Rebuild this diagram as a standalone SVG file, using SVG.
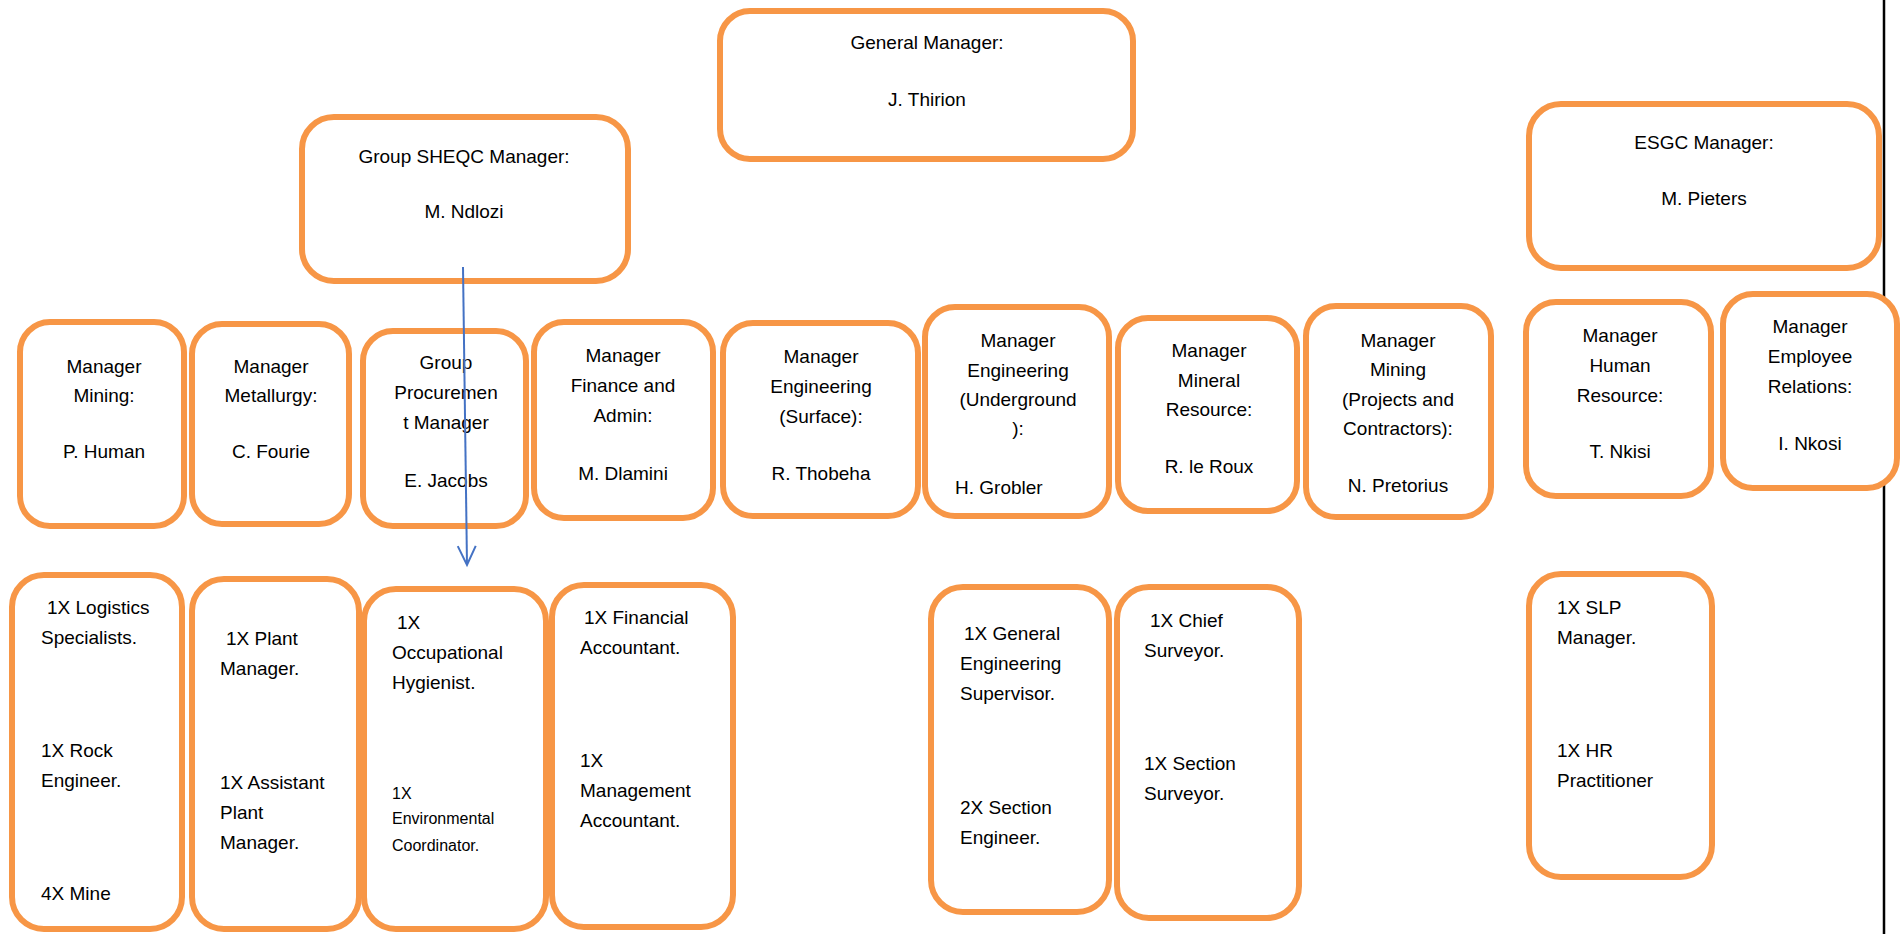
<svg xmlns="http://www.w3.org/2000/svg" width="1902" height="934" viewBox="0 0 1902 934">
<style>
.box{fill:#fff;stroke:#F79646;stroke-width:6}
text{font-family:"Liberation Sans",Arial,sans-serif;font-size:19px;fill:#000}
.c{text-anchor:middle}
.s{font-size:16px}
.conn{stroke:#4472C4;stroke-width:2;fill:none}
</style>
<defs>
<marker id="arr" markerUnits="userSpaceOnUse" markerWidth="24" markerHeight="24" refX="20" refY="10" orient="auto">
<polyline points="1,1 20,10 1,19" fill="none" stroke="#4472C4" stroke-width="2"/>
</marker>
</defs>
<rect x="0" y="0" width="1902" height="934" fill="#fff"/>
<line x1="1884" y1="0" x2="1884" y2="934" stroke="#000" stroke-width="2.5"/>

<g id="gm"><rect class="box" x="720" y="11" width="413" height="148" rx="30"/>
<text class="c" x="927" y="49">General Manager:</text><text class="c" x="927" y="106">J. Thirion</text></g>
<g id="sheqc"><rect class="box" x="302" y="117" width="326" height="164" rx="32"/>
<text class="c" x="464" y="163">Group SHEQC Manager:</text><text class="c" x="464" y="218">M. Ndlozi</text></g>
<g id="esgc"><rect class="box" x="1529" y="104" width="350" height="164" rx="32"/>
<text class="c" x="1704" y="149">ESGC Manager:</text><text class="c" x="1704" y="205">M. Pieters</text></g>

<g id="mining"><rect class="box" x="20" y="322" width="164" height="204" rx="30"/>
<text class="c" x="104" y="373">Manager</text><text class="c" x="104" y="402">Mining:</text><text class="c" x="104" y="458">P. Human</text></g>
<g id="metallurgy"><rect class="box" x="192" y="324" width="157" height="200" rx="30"/>
<text class="c" x="271" y="373">Manager</text><text class="c" x="271" y="402">Metallurgy:</text><text class="c" x="271" y="458">C. Fourie</text></g>
<g id="procurement"><rect class="box" x="363" y="331" width="163" height="195" rx="30"/>
<text class="c" x="446" y="369">Group</text><text class="c" x="446" y="399">Procuremen</text><text class="c" x="446" y="429">t Manager</text><text class="c" x="446" y="487">E. Jacobs</text></g>
<g id="finance"><rect class="box" x="534" y="322" width="179" height="196" rx="30"/>
<text class="c" x="623" y="362">Manager</text><text class="c" x="623" y="392">Finance and</text><text class="c" x="623" y="422">Admin:</text><text class="c" x="623" y="480">M. Dlamini</text></g>
<g id="eng-surface"><rect class="box" x="723" y="323" width="195" height="193" rx="30"/>
<text class="c" x="821" y="363">Manager</text><text class="c" x="821" y="393">Engineering</text><text class="c" x="821" y="423">(Surface):</text><text class="c" x="821" y="480">R. Thobeha</text></g>
<g id="eng-underground"><rect class="box" x="925" y="307" width="184" height="209" rx="30"/>
<text class="c" x="1018" y="347">Manager</text><text class="c" x="1018" y="377">Engineering</text><text class="c" x="1018" y="406">(Underground</text><text class="c" x="1018" y="435">):</text><text x="955" y="494">H. Grobler</text></g>
<g id="mineral"><rect class="box" x="1118" y="318" width="179" height="193" rx="30"/>
<text class="c" x="1209" y="357">Manager</text><text class="c" x="1209" y="387">Mineral</text><text class="c" x="1209" y="416">Resource:</text><text class="c" x="1209" y="473">R. le Roux</text></g>
<g id="mining-projects"><rect class="box" x="1306" y="306" width="185" height="211" rx="30"/>
<text class="c" x="1398" y="347">Manager</text><text class="c" x="1398" y="376">Mining</text><text class="c" x="1398" y="406">(Projects and</text><text class="c" x="1398" y="435">Contractors):</text><text class="c" x="1398" y="492">N. Pretorius</text></g>
<g id="hr"><rect class="box" x="1526" y="302" width="185" height="194" rx="30"/>
<text class="c" x="1620" y="342">Manager</text><text class="c" x="1620" y="372">Human</text><text class="c" x="1620" y="402">Resource:</text><text class="c" x="1620" y="458">T. Nkisi</text></g>
<g id="er"><rect class="box" x="1723" y="294" width="174" height="194" rx="30"/>
<text class="c" x="1810" y="333">Manager</text><text class="c" x="1810" y="363">Employee</text><text class="c" x="1810" y="393">Relations:</text><text class="c" x="1810" y="450">I. Nkosi</text></g>

<g id="logistics"><rect class="box" x="12" y="575" width="170" height="354" rx="32"/>
<text x="47" y="614">1X Logistics</text><text x="41" y="644">Specialists.</text><text x="41" y="757">1X Rock</text><text x="41" y="787">Engineer.</text><text x="41" y="900">4X Mine</text></g>
<g id="plant"><rect class="box" x="192" y="579" width="167" height="350" rx="32"/>
<text x="226" y="645">1X Plant</text><text x="220" y="675">Manager.</text><text x="220" y="789">1X Assistant</text><text x="220" y="819">Plant</text><text x="220" y="849">Manager.</text></g>
<g id="occupational"><rect class="box" x="364" y="589" width="182" height="340" rx="32"/>
<text x="397" y="629">1X</text><text x="392" y="659">Occupational</text><text x="392" y="689">Hygienist.</text><text class="s" x="392" y="799">1X</text><text class="s" x="392" y="824">Environmental</text><text class="s" x="392" y="851">Coordinator.</text></g>
<g id="financial"><rect class="box" x="552" y="585" width="181" height="342" rx="32"/>
<text x="584" y="624">1X Financial</text><text x="580" y="654">Accountant.</text><text x="580" y="767">1X</text><text x="580" y="797">Management</text><text x="580" y="827">Accountant.</text></g>
<g id="gen-eng"><rect class="box" x="931" y="587" width="178" height="325" rx="32"/>
<text x="964" y="640">1X General</text><text x="960" y="670">Engineering</text><text x="960" y="700">Supervisor.</text><text x="960" y="814">2X Section</text><text x="960" y="844">Engineer.</text></g>
<g id="surveyor"><rect class="box" x="1117" y="587" width="182" height="331" rx="32"/>
<text x="1150" y="627">1X Chief</text><text x="1144" y="657">Surveyor.</text><text x="1144" y="770">1X Section</text><text x="1144" y="800">Surveyor.</text></g>
<g id="slp"><rect class="box" x="1529" y="574" width="183" height="303" rx="32"/>
<text x="1557" y="614">1X SLP</text><text x="1557" y="644">Manager.</text><text x="1557" y="757">1X HR</text><text x="1557" y="787">Practitioner</text></g>

<g id="connectors">
<path class="conn" d="M463,267 L467,565" marker-end="url(#arr)"/>
</g>
</svg>
